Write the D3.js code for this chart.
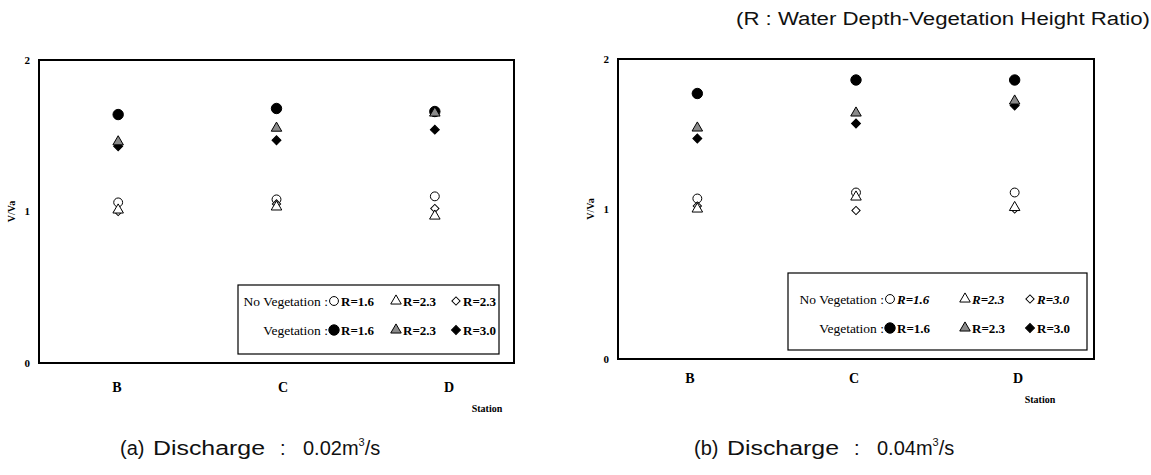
<!DOCTYPE html>
<html><head><meta charset="utf-8">
<script src="https://cdn.jsdelivr.net/npm/d3@7"></script>
<style>body{margin:0;background:#fff;} svg{display:block;}</style>
</head><body>
<svg id="c" width="1151" height="475"></svg>
<script>
// ---- data ----
const stations = ["B", "C", "D"];
const yTicks = [0, 1, 2];
// (a) Discharge 0.02 m3/s
const a_noVeg16 = [1.06, 1.08, 1.10];
const a_noVeg23 = [1.01, 1.03, 0.97];
const a_noVeg30 = [1.00, 1.05, 1.02];
const a_veg16 = [1.64, 1.68, 1.66];
const a_veg23 = [1.46, 1.55, 1.65];
const a_veg30 = [1.43, 1.47, 1.54];
// (b) Discharge 0.04 m3/s
const b_noVeg16 = [1.07, 1.11, 1.11];
const b_noVeg23 = [1.00, 1.08, 1.01];
const b_noVeg30 = [1.02, 0.99, 1.00];
const b_veg16 = [1.77, 1.86, 1.86];
const b_veg23 = [1.54, 1.64, 1.72];
const b_veg30 = [1.47, 1.57, 1.69];
const legendA = [["No Vegetation :", "R=1.6", "R=2.3", "R=2.3"], ["Vegetation :", "R=1.6", "R=2.3", "R=3.0"]];
const legendB = [["No Vegetation :", "R=1.6", "R=2.3", "R=3.0"], ["Vegetation :", "R=1.6", "R=2.3", "R=3.0"]];
const captionA = "0.02";
const captionB = "0.04";

const svg = d3.select("#c");
const serif = "'Liberation Serif','Times New Roman',serif";
const sans = "'Liberation Sans','DejaVu Sans',Arial,sans-serif";

const symStyles = {
  oc: {type: d3.symbolCircle, size: 62, fill: "#fff", stroke: "#000", rot: 0},
  ot: {type: d3.symbolTriangle, size: 48, fill: "#fff", stroke: "#000", rot: 0},
  od: {type: d3.symbolSquare, size: 34, fill: "#fff", stroke: "#000", rot: 45},
  fc: {type: d3.symbolCircle, size: 85, fill: "#000", stroke: "#000", rot: 0},
  ft: {type: d3.symbolTriangle, size: 48, fill: "#8a8a8a", stroke: "#000", rot: 0},
  fd: {type: d3.symbolSquare, size: 40, fill: "#000", stroke: "#000", rot: 45}
};

function panel(cfg) {
  const g = svg.append("g");
  const x = d3.scalePoint().domain(stations).range([cfg.x0, cfg.x1]).padding(0.5);
  const xl = d3.scalePoint().domain(stations).range(cfg.labelRange);
  const y = d3.scaleLinear().domain([0, 2]).range([cfg.y0, cfg.y1]);

  // frame
  g.append("rect").attr("x", cfg.x0).attr("y", cfg.y1).attr("width", cfg.x1 - cfg.x0)
    .attr("height", cfg.y0 - cfg.y1).attr("fill", "none").attr("stroke", "#000").attr("stroke-width", 2);

  // y tick labels
  g.selectAll(".yt").data(yTicks).join("text")
    .attr("x", cfg.x0 - 9).attr("y", d => y(d)).attr("dy", "0.35em")
    .attr("text-anchor", "end").attr("font-family", serif).attr("font-weight", "bold")
    .attr("font-size", 11).text(d => d);
  g.append("text").attr("transform", `translate(${cfg.x0 - 24},${y(1)}) rotate(-90)`)
    .attr("text-anchor", "middle").attr("font-family", serif).attr("font-weight", "bold")
    .attr("font-size", 10).text("V/Va");

  // x labels
  g.selectAll(".xt").data(stations).join("text")
    .attr("x", d => xl(d)).attr("y", cfg.labelY).attr("text-anchor", "middle")
    .attr("font-family", serif).attr("font-weight", "bold").attr("font-size", 14).text(d => d);
  g.append("text").attr("x", cfg.stationX).attr("y", cfg.labelY + 20).attr("text-anchor", "middle")
    .attr("font-family", serif).attr("font-weight", "bold").attr("font-size", 10).text("Station");

  // legend box
  const L = cfg.legend;
  g.append("rect").attr("x", L.x).attr("y", L.y).attr("width", L.w).attr("height", L.h)
    .attr("fill", "#fff").attr("stroke", "#000").attr("stroke-width", 1.2);
  const rowKeys = [["oc", "ot", "od"], ["fc", "ft", "fd"]];
  cfg.legendText.forEach((row, i) => {
    const ry = L.y + L.rowY[i];
    g.append("text").attr("x", L.x + L.labelEnd).attr("y", ry).attr("dy", "0.35em")
      .attr("text-anchor", "end").attr("font-family", serif).attr("font-size", 13.5).text(row[0]);
    rowKeys[i].forEach((k, j) => {
      const sx = L.x + L.symX[j];
      const s = symStyles[k];
      g.append("path").attr("d", d3.symbol().type(s.type).size(s.size)())
        .attr("transform", `translate(${sx},${ry}) rotate(${s.rot})`).attr("fill", s.fill).attr("stroke", s.stroke).attr("stroke-width", 1);
      g.append("text").attr("x", sx + 7).attr("y", ry).attr("dy", "0.35em")
        .attr("font-family", serif).attr("font-weight", "bold")
        .attr("font-style", (cfg.italicRow0 && i === 0) ? "italic" : "normal")
        .attr("font-size", 13).text(row[j + 1]);
    });
  });

  // markers
  const series = [
    ["oc", cfg.data.noVeg16], ["od", cfg.data.noVeg30], ["ot", cfg.data.noVeg23],
    ["fc", cfg.data.veg16], ["fd", cfg.data.veg30], ["ft", cfg.data.veg23]
  ];
  series.forEach(([k, vals]) => {
    const s = symStyles[k];
    g.selectAll(null).data(stations.map((st, i) => ({st, v: vals[i]}))).join("path")
      .attr("d", d3.symbol().type(s.type).size(s.size)())
      .attr("transform", d => `translate(${x(d.st)},${y(d.v)}) rotate(${s.rot})`)
      .attr("fill", s.fill).attr("stroke", s.stroke).attr("stroke-width", 1);
  });

  // caption
  const cap = g.append("text").attr("y", 455).attr("font-family", sans)
    .attr("font-size", 20).attr("fill", "#111");
  cap.append("tspan").attr("x", cfg.capX).text(cfg.capPrefix);
  cap.append("tspan").attr("x", cfg.capX + 33).attr("textLength", 112).attr("lengthAdjust", "spacingAndGlyphs").text("Discharge");
  cap.append("tspan").attr("x", cfg.capX + 160).text(":");
  cap.append("tspan").attr("x", cfg.capX + 183).text(cfg.caption + "m");
  cap.append("tspan").attr("dy", -9).attr("font-size", 11).text("3");
  cap.append("tspan").attr("dy", 9).text("/s");
}

panel({
  x0: 39, x1: 514, y0: 363, y1: 60,
  labelRange: [117, 449], labelY: 392, stationX: 487,
  legend: {x: 238, y: 285, w: 261, h: 69, rowY: [16, 45], labelEnd: 90, symX: [96, 158, 218]},
  legendText: legendA, italicRow0: false,
  data: {noVeg16: a_noVeg16, noVeg23: a_noVeg23, noVeg30: a_noVeg30, veg16: a_veg16, veg23: a_veg23, veg30: a_veg30},
  capX: 120, capPrefix: "(a)", caption: captionA
});
panel({
  x0: 618, x1: 1094, y0: 359, y1: 59,
  labelRange: [690, 1018], labelY: 383, stationX: 1040,
  legend: {x: 788, y: 273, w: 299, h: 77, rowY: [26, 55], labelEnd: 96, symX: [102, 177, 242]},
  legendText: legendB, italicRow0: true,
  data: {noVeg16: b_noVeg16, noVeg23: b_noVeg23, noVeg30: b_noVeg30, veg16: b_veg16, veg23: b_veg23, veg30: b_veg30},
  capX: 694, capPrefix: "(b)", caption: captionB
});

svg.append("text").attr("x", 736).attr("y", 25)
  .attr("font-family", sans).attr("font-size", 18).attr("fill", "#111")
  .attr("textLength", 414).attr("lengthAdjust", "spacingAndGlyphs")
  .text("(R : Water Depth-Vegetation Height Ratio)");
</script>
</body></html>
